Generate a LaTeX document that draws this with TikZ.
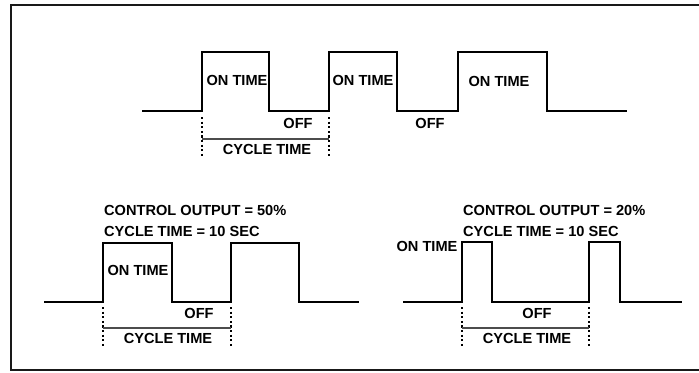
\documentclass[tikz,border=0pt]{standalone}
\usepackage{fontspec}
\setmainfont{Liberation Sans}
\begin{document}
\begin{tikzpicture}[x=1bp,y=-1bp,
  wave/.style={line width=2.8bp,line join=miter},
  frameline/.style={line width=2.2bp,draw=black!90},
  dotline/.style={line width=2.4bp,dash pattern=on 2.2bp off 2.4bp},
  cycleline/.style={line width=1.2bp,draw=black!70},
  lbl/.style={font=\fontsize{14.6bp}{16bp}\selectfont\bfseries,inner sep=0pt},
  head/.style={lbl,anchor=west}]
\useasboundingbox (0,0) rectangle (699,372);
\fill[white] (0,0) rectangle (699,372);
\draw[frameline] (699,5) -- (11,5) -- (11,370) -- (699,370);

% ---------- top waveform ----------
\draw[wave] (142,111) -- (202,111) -- (202,52) -- (269,52) -- (269,111)
  -- (329,111) -- (329,52) -- (397,52) -- (397,111) -- (458,111)
  -- (458,52) -- (547,52) -- (547,111) -- (627,111);
\coordinate (t1) at (202,117); \coordinate (t1b) at (202,158);
\coordinate (t2) at (329,117); \coordinate (t2b) at (329,158);
\draw[dotline] (t1) -- (t1b);
\draw[dotline] (t2) -- (t2b);
\coordinate (tc1) at (202,139); \coordinate (tc2) at (329,139);
\draw[cycleline] (tc1) -- (tc2);
\node[lbl] (ton1) at (237,80) {ON TIME};
\node[lbl] (ton2) at (363,80) {ON TIME};
\node[lbl] (ton3) at (499,81) {ON TIME};
\node[lbl] (toff1) at (298,123) {OFF};
\node[lbl] (toff2) at (430,123) {OFF};
\node[lbl] (tcyc) at (267,149) {CYCLE TIME};

% ---------- bottom left ----------
\node[head] (h1) at (104,210) {CONTROL OUTPUT = 50\%};
\node[head] (h2) at (104,231) {CYCLE TIME = 10 SEC};
\draw[wave] (44,302) -- (103,302) -- (103,243) -- (172,243) -- (172,302)
  -- (231,302) -- (231,243) -- (299,243) -- (299,302) -- (359,302);
\coordinate (l1) at (103,307); \coordinate (l1b) at (103,346);
\coordinate (l2) at (231,307); \coordinate (l2b) at (231,346);
\draw[dotline] (l1) -- (l1b);
\draw[dotline] (l2) -- (l2b);
\coordinate (lc1) at (103,328); \coordinate (lc2) at (231,328);
\draw[cycleline] (lc1) -- (lc2);
\node[lbl] (lon) at (138,270) {ON TIME};
\node[lbl] (loff) at (199,313) {OFF};
\node[lbl] (lcyc) at (168,338) {CYCLE TIME};

% ---------- bottom right ----------
\node[head] (h3) at (463,210) {CONTROL OUTPUT = 20\%};
\node[head] (h4) at (463,231) {CYCLE TIME = 10 SEC};
\draw[wave] (403,302) -- (462,302) -- (462,242) -- (492,242) -- (492,302)
  -- (589,302) -- (589,242) -- (620,242) -- (620,302) -- (682,302);
\coordinate (r1) at (462,307); \coordinate (r1b) at (462,346);
\coordinate (r2) at (589,307); \coordinate (r2b) at (589,346);
\draw[dotline] (r1) -- (r1b);
\draw[dotline] (r2) -- (r2b);
\coordinate (rc1) at (462,328); \coordinate (rc2) at (589,328);
\draw[cycleline] (rc1) -- (rc2);
\node[lbl] (ron) at (427,246) {ON TIME};
\node[lbl] (roff) at (537,313) {OFF};
\node[lbl] (rcyc) at (527,338) {CYCLE TIME};
\end{tikzpicture}
\end{document}
